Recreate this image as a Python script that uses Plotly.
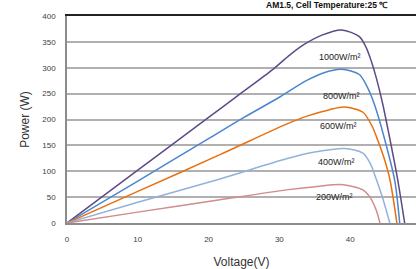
import plotly.graph_objects as go

irradiance_labels = ["1000W/m²", "800W/m²", "600W/m²", "400W/m²", "200W/m²"]

v_1000 = [0, 10, 20, 24.5, 29.0, 31.5, 33.5, 36.0, 38.8, 41.3, 42.3, 43.0, 43.7, 44.6, 45.5, 46.7, 47.7]
p_1000 = [0, 102, 204, 250, 296, 325, 345, 363, 373, 360, 338, 312, 280, 230, 170, 85, 0]

v_800 = [0, 10, 20, 25, 30, 33.8, 36.2, 38.8, 41.3, 42.3, 43.0, 43.7, 45.1, 46.3, 47.0]
p_800 = [0, 81, 163, 204, 243, 275, 290, 297, 287, 266, 245, 218, 150, 82, 0]

v_600 = [0, 10, 21.6, 31.0, 34.0, 37.1, 39.2, 41.8, 43.1, 43.9, 44.8, 45.6, 46.6]
p_600 = [0, 61, 132, 191, 207, 219, 224, 214, 187, 160, 125, 85, 0]

v_400 = [0, 10, 21.6, 31.0, 35.0, 39.2, 41.8, 42.8, 43.5, 44.6, 45.6]
p_400 = [0, 40, 85, 124, 137, 144, 135, 116, 92, 48, 0]

v_200 = [0, 10, 21.6, 31.0, 35.0, 39.0, 41.8, 42.8, 43.7, 44.2]
p_200 = [0, 21, 45, 64, 70, 74, 64, 50, 24, 0]

label_v = [38.5, 38.8, 38.4, 38.1, 37.8]
label_p = [321, 246, 188, 118, 50]

x_ticks = [0, 10, 20, 30, 40]
y_ticks = [0, 50, 100, 150, 200, 250, 300, 350, 400]

series = [
    (v_1000, p_1000, "#5e4a87"),
    (v_800, p_800, "#4a85cf"),
    (v_600, p_600, "#e8700f"),
    (v_400, p_400, "#92b2da"),
    (v_200, p_200, "#d38b8b"),
]

fig = go.Figure()
for (v, p, c), name in zip(series, irradiance_labels):
    fig.add_trace(go.Scatter(x=v, y=p, mode="lines", name=name,
                             line=dict(color=c, width=1.5, shape="spline", smoothing=0.8),
                             showlegend=False))

# top border via overlaid axis
fig.add_trace(go.Scatter(x=[0], y=[0], xaxis="x2", mode="markers",
                         marker=dict(opacity=0), showlegend=False, hoverinfo="skip"))

for lv, lp, txt in zip(label_v, label_p, irradiance_labels):
    fig.add_annotation(x=lv, y=lp, text=txt, showarrow=False,
                       font=dict(family="Liberation Sans, Arial", size=9, color="#222222"))

fig.add_annotation(xref="paper", yref="paper", x=0.744, xanchor="center", y=1.0,
                   yanchor="bottom", yshift=4,
                   text="<b>AM1.5, Cell Temperature:25 ℃</b>", showarrow=False,
                   font=dict(family="Liberation Sans, Arial", size=8.5, color="#111111"))

fig.update_layout(
    width=416, height=269,
    margin=dict(l=67, r=0, t=16, b=46),
    paper_bgcolor="white", plot_bgcolor="white",
    font=dict(family="Liberation Sans, Arial", size=8, color="#404040"),
    xaxis=dict(range=[0, 49.3], tickvals=x_ticks, showgrid=False, zeroline=False,
               showline=True, linecolor="#8c8c8c", linewidth=1.5, ticks="",
               ticklabelstandoff=8,
               title=dict(text="Voltage(V)", font=dict(size=12, color="#333333"), standoff=16)),
    xaxis2=dict(range=[0, 49.3], overlaying="x", side="top", showline=True,
                linecolor="#222222", linewidth=1.5, showticklabels=False, ticks="",
                showgrid=False, zeroline=False),
    yaxis=dict(range=[0, 400], tickvals=y_ticks, showgrid=True, gridcolor="#b0b0b0",
               gridwidth=1.5, zeroline=False, showline=True, linecolor="#8c8c8c",
               linewidth=1.5, ticks="", ticklabelstandoff=8,
               title=dict(text="Power (W)", font=dict(size=12, color="#333333"), standoff=10)),
)

fig.write_html("out.html", config={"displayModeBar": False},
               post_script="document.body.style.margin='0';document.body.style.overflow='hidden';")
